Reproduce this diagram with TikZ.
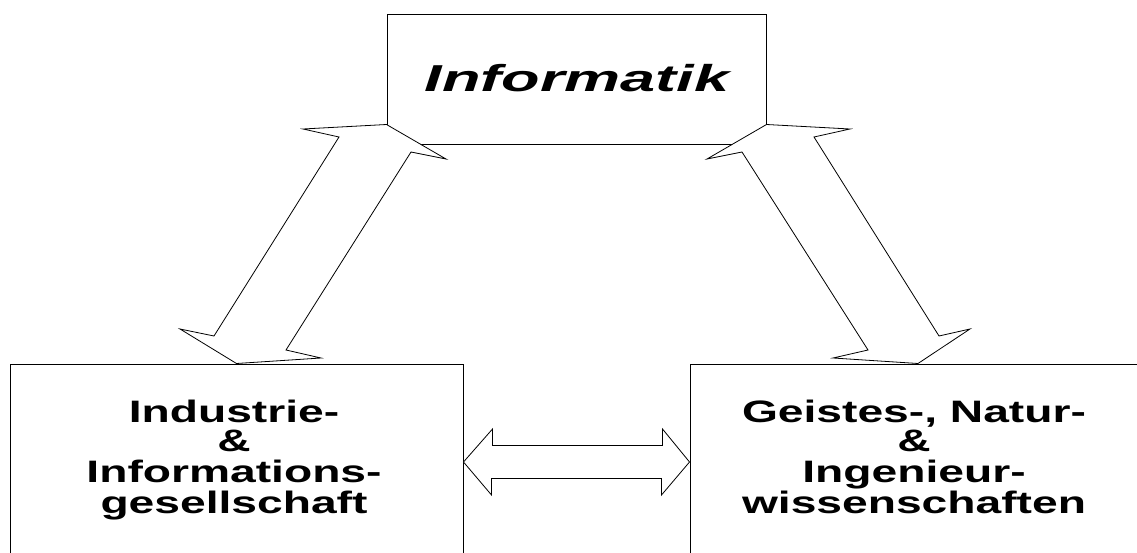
\documentclass[tikz,border=0pt]{standalone}
\usepackage{fontspec}
\setmainfont{Liberation Sans}
\usepackage{graphicx}
\usetikzlibrary{positioning}
\tikzset{
    %Define style for boxes
    field/.style={
           rectangle,
           draw=black, line width=1pt,
           inner sep=0pt,
           },
    %Define style for box texts
    fieldtext/.style={
           inner sep=0pt,
           anchor=base,
           },
    %Define style for block arrows
    blockarrow/.style={
           draw=black, line width=0.8pt,
           fill=white,
           line join=miter,
           }
}
% wide bold text, several lines
\newcommand{\widetext}[1]{\scalebox{1.49}[1]{\fontsize{31}{28}\selectfont\bfseries
  \begin{tabular}[t]{@{}c@{}}#1\end{tabular}}}

\begin{document}
\begin{tikzpicture}[x=1pt,y=-1pt]
\useasboundingbox (0,0) rectangle (1137,553);
\clip (0,0) rectangle (1137,553);

 %boxes
\node[field, minimum width=379pt, minimum height=130pt](inf) at (576.5,80){};
\node[field, minimum width=453pt, minimum height=196pt](ind) at (236.5,462){};
\node[field, minimum width=456pt, minimum height=196pt](wis) at (918,462){};

 %texts
\node[fieldtext](inftext) at (577,91.5)
    {\scalebox{1.68}[1]{\fontsize{37.5}{40}\selectfont\bfseries\itshape Informatik}};
\node[fieldtext](indtext) at (234,422)
    {\widetext{Industrie-\\\&\\Informations-\\gesellschaft}};
\node[fieldtext](wistext) at (914,422)
    {\widetext{Geistes-, Natur-\\\&\\Ingenieur-\\wissenschaften}};

 %arrows
\draw[blockarrow] ([yshift=21pt]inf.south west) -- (446,159) -- (411,152)
    -- (286,350) -- (321,358) -- (ind.north) -- (180,329) -- (214,336)
    -- (339,137) -- (303,129) -- cycle;
\draw[blockarrow] ([yshift=21pt]inf.south east) -- (707,159) -- (742,152)
    -- (868,350) -- (833,358) -- (wis.north) -- (970,329) -- (939,336)
    -- (814,137) -- (850,129) -- cycle;
\draw[blockarrow] (ind.east) -- ++(29,-33) -- ++(0,16.5) -- ++(170,0)
    -- ++(0,-16.5) -- (wis.west) -- ++(-28,33) -- ++(0,-16.5)
    -- ++(-170,0) -- ++(0,16.5) -- cycle;

\end{tikzpicture}
\end{document}
